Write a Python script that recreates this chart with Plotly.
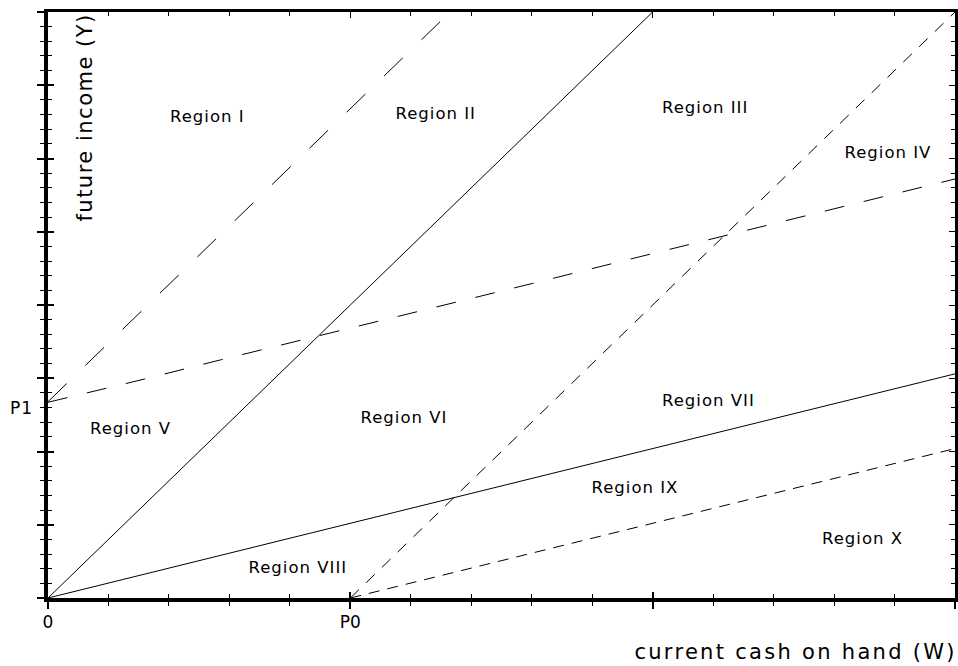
import plotly.graph_objects as go

# ---- data ----
# solid lines from the origin
steep_solid_x = [0, 10.0]
steep_solid_y = [0, 40]
flat_solid_x = [0, 15]
flat_solid_y = [0, 15.3]

# short-dashed lines from P0
steep_short_x = [5, 15]
steep_short_y = [0, 40]
flat_short_x = [5, 15]
flat_short_y = [0, 10.2]

# long-dashed lines from P1
steep_long_x = [0, 6.65]
steep_long_y = [13.4, 40]
curve_x = [0, 1.60, 2.87, 4.15, 5.74, 7.99, 10.28, 12.45, 15.0]
curve_y = [13.36, 14.95, 16.27, 17.56, 19.2, 21.45, 23.8, 25.99, 28.6]

region_names = ["Region I", "Region II", "Region III", "Region IV", "Region V",
                "Region VI", "Region VII", "Region VIII", "Region IX", "Region X"]
region_x = [2.64, 6.41, 10.87, 13.9, 1.38, 5.88, 10.92, 4.13, 9.70, 13.47]
region_y = [32.9, 33.1, 33.5, 30.4, 11.6, 12.3, 13.5, 2.05, 7.57, 4.04]

x_tickvals = [0, 5, 10, 15]
x_ticktext = ["0", "P0", "", ""]
y_tickvals = [0, 5, 10, 15, 20, 25, 30, 35, 40]
P1 = 13

x_title = "current cash on hand (W)"
y_title = "future income (Y)"

FONT = "DejaVu Sans"

fig = go.Figure()

def add_line(x, y, dash, width=1.0):
    fig.add_trace(go.Scatter(x=x, y=y, mode="lines",
                             line=dict(color="black", width=width, dash=dash),
                             hoverinfo="skip", showlegend=False))

add_line(steep_solid_x, steep_solid_y, "solid")
add_line(flat_solid_x, flat_solid_y, "solid")
add_line(steep_short_x, steep_short_y, "12px,10px")
add_line(flat_short_x, flat_short_y, "11px,8px")
add_line(steep_long_x, steep_long_y, "26px,26px")
add_line(curve_x, curve_y, "20px,20px")

# dummy traces so the overlay axes exist
for xa, ya in [("x2", "y"), ("x3", "y"), ("x", "y2"), ("x", "y3")]:
    fig.add_trace(go.Scatter(x=[], y=[], xaxis=xa, yaxis=ya, showlegend=False, hoverinfo="skip"))

for name, rx, ry in zip(region_names, region_x, region_y):
    fig.add_annotation(x=rx, y=ry, text=name, showarrow=False,
                       font=dict(family=FONT, size=16.5, color="black"),
                       xanchor="center", yanchor="middle")

fig.add_annotation(x=0.62, y=32.81, text=y_title, textangle=-90, showarrow=False,
                   font=dict(family=FONT, size=21, color="black"),
                   xanchor="center", yanchor="middle")
fig.add_annotation(xref="paper", yref="paper", x=1.0, y=0, yshift=-54, xshift=-24,
                   text=x_title, showarrow=False,
                   font=dict(family=FONT, size=21, color="black"),
                   xanchor="right", yanchor="middle")
fig.add_annotation(xref="paper", x=0, y=P1, xshift=-14, text="P1", showarrow=False,
                   font=dict(family=FONT, size=17, color="black"),
                   xanchor="right", yanchor="middle")

common_x = dict(range=[0, 15], showgrid=False, zeroline=False, fixedrange=True)
common_y = dict(range=[0, 40], showgrid=False, zeroline=False, fixedrange=True)

fig.update_layout(
    width=958, height=666,
    margin=dict(l=48, r=3, t=12, b=68),
    paper_bgcolor="white", plot_bgcolor="white",
    font=dict(family=FONT, size=17, color="black"),
    xaxis=dict(**common_x, side="bottom", anchor="y",
               showline=True, linecolor="black", linewidth=3.5,
               tickmode="array", tickvals=x_tickvals, ticktext=x_ticktext,
               ticks="outside", ticklen=7, tickwidth=1.5, tickcolor="black",
               ticklabelstandoff=-1,
               tickfont=dict(family=FONT, size=17, color="black"),
               minor=dict(dtick=1, tick0=0, ticks="outside", ticklen=4,
                          tickwidth=1.3, tickcolor="black")),
    xaxis2=dict(**common_x, overlaying="x", side="bottom", anchor="y",
                showline=False, showticklabels=False,
                tickmode="array", tickvals=x_tickvals,
                ticks="inside", ticklen=6, tickwidth=1.5, tickcolor="black",
                minor=dict(dtick=1, tick0=0, ticks="inside", ticklen=4,
                           tickwidth=1.3, tickcolor="black")),
    xaxis3=dict(**common_x, overlaying="x", side="top", anchor="y",
                showline=True, linecolor="black", linewidth=2.5, showticklabels=False,
                tickmode="array", tickvals=x_tickvals,
                ticks="inside", ticklen=6, tickwidth=1.3, tickcolor="black",
                minor=dict(dtick=1, tick0=0, ticks="inside", ticklen=4,
                           tickwidth=1.1, tickcolor="black")),
    yaxis=dict(**common_y, side="left", anchor="x",
               showline=True, linecolor="black", linewidth=4,
               tickmode="array", tickvals=y_tickvals, showticklabels=False,
               ticks="outside", ticklen=7, tickwidth=1.5, tickcolor="black",
               minor=dict(dtick=1, tick0=0, ticks="outside", ticklen=4,
                          tickwidth=1.3, tickcolor="black")),
    yaxis2=dict(**common_y, overlaying="y", side="left", anchor="x",
                showline=False, showticklabels=False,
                tickmode="array", tickvals=y_tickvals,
                ticks="inside", ticklen=6, tickwidth=1.5, tickcolor="black",
                minor=dict(dtick=1, tick0=0, ticks="inside", ticklen=4,
                           tickwidth=1.3, tickcolor="black")),
    yaxis3=dict(**common_y, overlaying="y", side="right", anchor="x",
                showline=True, linecolor="black", linewidth=2.5, showticklabels=False,
                tickmode="array", tickvals=y_tickvals,
                ticks="inside", ticklen=6, tickwidth=1.3, tickcolor="black",
                minor=dict(dtick=1, tick0=0, ticks="inside", ticklen=4,
                           tickwidth=1.1, tickcolor="black")),
    showlegend=False,
)

post = """
document.body.style.margin = '0';
document.body.style.overflow = 'hidden';
document.querySelectorAll('.annotation-text').forEach(function (t) {
  var txt = t.textContent;
  var sp = '1px';
  if (txt.indexOf('current cash') === 0) sp = '2.3px';
  else if (txt.indexOf('future income') === 0) sp = '1.5px';
  t.style.letterSpacing = sp;
});
"""

fig.write_html("out.html", config=dict(displayModeBar=False), post_script=post)
